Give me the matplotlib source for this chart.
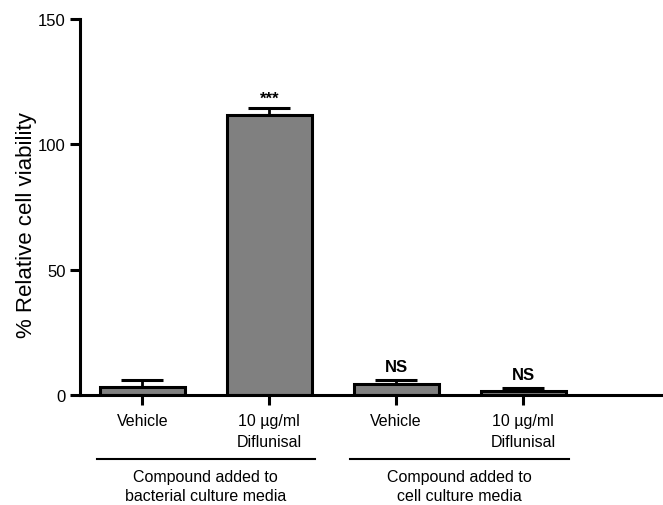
import matplotlib
matplotlib.use("Agg")
import matplotlib.pyplot as plt
import matplotlib.transforms as mtransforms

plt.rcParams['font.family'] = ['Liberation Sans', 'DejaVu Sans']

labels = ["Vehicle", "10 µg/ml\nDiflunisal", "Vehicle", "10 µg/ml\nDiflunisal"]
means = [3.2, 111.7, 4.5, 1.7]
errs = [2.9, 2.8, 1.4, 1.0]
marks = ["", "***", "NS", "NS"]
groups = ["Compound added to\nbacterial culture media", "Compound added to\ncell culture media"]
group_spans = [(0, 1), (2, 3)]

fig = plt.figure(figsize=(6.63, 5.06), dpi=100)
ax = fig.add_axes([0.1207, 0.2174, 0.879, 0.743])

x = list(range(len(means)))
ax.bar(x, means, width=0.67, color="#808080", edgecolor="black", linewidth=2.2, zorder=2)
ax.errorbar(x, means, yerr=[[0]*len(errs), errs], fmt="none", ecolor="black",
            elinewidth=2.0, capsize=15, capthick=2.2, zorder=1)

for xi, m, e, t in zip(x, means, errs, marks):
    if t:
        off = 4.0 if t == "***" else 5.5
        ax.text(xi, m + e + off, t, ha="center", va="center", fontsize=12, fontweight="bold")

ax.set_ylim(0, 150)
ax.set_xlim(-0.49, 4.1)
ax.set_yticks([0, 50, 100, 150])
ax.set_xticks(x)
ax.set_xticklabels(labels, fontsize=11.5, linespacing=1.5)
ax.tick_params(axis="both", width=2.2, length=7, labelsize=12)
ax.tick_params(axis="x", pad=6, labelsize=11.5)
ax.set_ylabel("% Relative cell viability", fontsize=16)
ax.yaxis.set_label_coords(-0.074, 0.455)
for s in ["top", "right"]:
    ax.spines[s].set_visible(False)
for s in ["left", "bottom"]:
    ax.spines[s].set_linewidth(2.2)

trans = mtransforms.blended_transform_factory(ax.transData, ax.transAxes)
for (a, b), g in zip(group_spans, groups):
    ax.plot([a - 0.36, b + 0.36], [-0.170, -0.170], color="black", linewidth=1.5,
            transform=trans, clip_on=False)
    ax.text((a + b) / 2, -0.197, g, ha="center", va="top", fontsize=11.5,
            transform=trans, linespacing=1.3)

fig.savefig("out.png", dpi=100)
